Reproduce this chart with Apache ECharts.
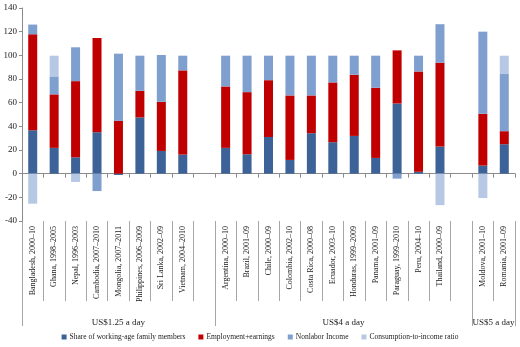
<!DOCTYPE html>
<html>
<head>
<meta charset="utf-8">
<script src="https://cdn.jsdelivr.net/npm/echarts@6/dist/echarts.min.js"></script>
<style>
  html, body { margin: 0; padding: 0; background: #ffffff; }
  #chart { width: 520px; height: 347px; }
</style>
</head>
<body>
<div id="chart"></div>
<script>
// Countries by poverty line; empty entries are spacer slots between groups
const categories = [
  'Bangladesh, 2000–10', 'Ghana, 1998–2005', 'Nepal, 1996–2003', 'Cambodia, 2007–2010',
  'Mongolia, 2007–2011', 'Philippines, 2006–2009', 'Sri Lanka, 2002–09', 'Vietnam, 2004–2010', '',
  'Argentina, 2000–10', 'Brazil, 2001–09', 'Chile, 2000–09', 'Colombia, 2002–10',
  'Costa Rica, 2000–08', 'Ecuador, 2003–10', 'Honduras, 1999–2009', 'Panama, 2001–09',
  'Paraguay, 1999–2010', 'Peru, 2004–10', 'Thailand, 2000–09', '',
  'Moldova, 2001–10', 'Romania, 2001–09'
];

// Poverty-line groups: label, first slot, number of slots
const groupNames = ['US$1.25 a day', 'US$4 a day', 'US$5 a day'];
const groupStarts = [0, 9, 21];
const groupSizes = [9, 12, 2];

// Contributions (percent) of each component
const shareWorkingAge = [36.7, 21.8, 13.8, 35.0, -1.1, 47.5, 19.2, 16.1, null,
  21.8, 16.4, 31.0, 11.6, 34.2, 26.6, 31.9, 13.3, 59.3, 1.7, 22.9, null, 6.8, 24.9];
const employmentEarnings = [81.1, 45.2, 64.4, 79.7, 44.6, 22.5, 41.5, 71.2, null,
  51.9, 52.5, 48.0, 54.5, 31.9, 50.5, 51.7, 59.3, 44.9, 84.7, 70.9, null, 43.8, 11.0];
const nonlaborIncome = [8.2, 15.2, 28.6, -14.7, 56.8, 29.7, 39.6, 12.4, null,
  26.0, 30.8, 20.7, 33.6, 33.6, 22.6, 16.1, 27.1, -4.2, 13.3, 32.5, null, 69.4, 48.3];
const consumptionRatio = [-25.4, 17.5, -7.0, null, null, null, null, null, null,
  null, null, null, null, null, null, null, null, null, null, -26.6, null, -20.6, 15.5];

const yTicks = { min: -40, max: 140, step: 20 };

const serif = '"Liberation Serif", "DejaVu Serif", serif';
const axisGray = '#8c8c8c';

const groupEdges = groupStarts.concat([categories.length]);
const groupCenters = groupStarts.map((s, i) => s + groupSizes[i] / 2);

function barSeries(name, data, color) {
  return {
    name: name,
    type: 'bar',
    stack: 'total',
    data: data,
    barWidth: 9,
    xAxisIndex: 0,
    yAxisIndex: 0,
    itemStyle: { color: color },
    emphasis: { disabled: true }
  };
}

const chart = echarts.init(document.getElementById('chart'), null, { renderer: 'canvas' });

chart.setOption({
  animation: false,
  backgroundColor: '#ffffff',
  grid: { left: 22, right: 5, top: 8, bottom: 126, containLabel: false, outerBoundsMode: 'none' },
  legend: {
    bottom: 1,
    left: 'center',
    icon: 'rect',
    itemWidth: 5,
    itemHeight: 5,
    itemGap: 13,
    textStyle: { fontFamily: serif, fontSize: 7.5, color: '#222', padding: [0, 0, 0, -2] },
    data: ['Share of working-age family members', 'Employment+earnings', 'Nonlabor Income', 'Consumption-to-income ratio']
  },
  xAxis: [
    {
      // axis line through zero
      type: 'category',
      data: categories,
      axisLine: { onZero: true, lineStyle: { color: axisGray, width: 1 } },
      axisTick: { show: true, length: 4, interval: 0, lineStyle: { color: axisGray } },
      axisLabel: { show: false },
      splitLine: { show: false }
    },
    {
      // country labels with dividers below the plot
      type: 'category',
      data: categories,
      position: 'bottom',
      axisLine: { show: false, onZero: false },
      axisTick: { show: true, length: 80, interval: 0, lineStyle: { color: '#a6a6a6' } },
      axisLabel: {
        interval: 0, rotate: 90, margin: 5,
        fontFamily: serif, fontSize: 8, color: '#222'
      },
      splitLine: { show: false }
    },
    {
      // poverty-line group labels and group dividers
      type: 'value',
      min: 0,
      max: categories.length,
      position: 'bottom',
      axisLine: { show: false, onZero: false },
      axisTick: { show: true, length: 105, customValues: groupEdges, lineStyle: { color: '#a6a6a6' } },
      axisLabel: {
        show: true,
        customValues: groupCenters,
        margin: 97,
        fontFamily: serif, fontSize: 9, color: '#222',
        formatter: function (v) {
          const i = groupCenters.findIndex(c => Math.abs(c - v) < 1e-6);
          return i >= 0 ? groupNames[i] : '';
        }
      },
      splitLine: { show: false }
    }
  ],
  yAxis: {
    type: 'value',
    min: yTicks.min,
    max: yTicks.max,
    interval: yTicks.step,
    axisLine: { show: true, lineStyle: { color: axisGray } },
    axisTick: { show: true, length: 3, lineStyle: { color: axisGray } },
    axisLabel: { fontFamily: serif, fontSize: 9, color: '#222', margin: 5 },
    splitLine: { show: false }
  },
  series: [
    barSeries('Share of working-age family members', shareWorkingAge, '#3d6298'),
    barSeries('Employment+earnings', employmentEarnings, '#c00000'),
    barSeries('Nonlabor Income', nonlaborIncome, '#7f9fcf'),
    barSeries('Consumption-to-income ratio', consumptionRatio, '#b7c8e5')
  ]
});
</script>
</body>
</html>
